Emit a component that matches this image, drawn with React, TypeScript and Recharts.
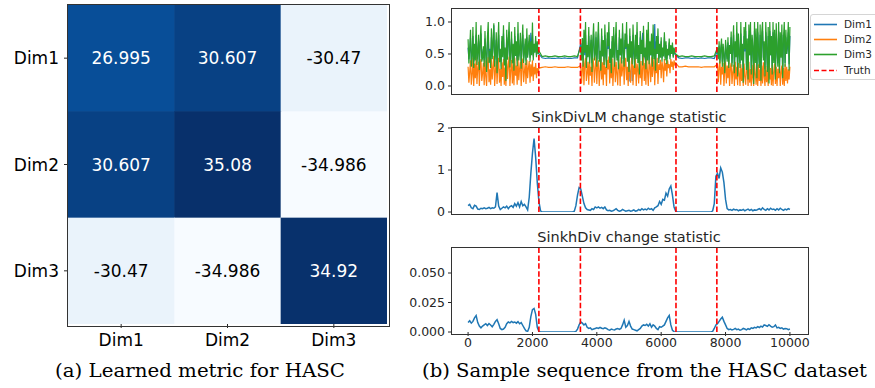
import React from 'react';
import { LineChart, Line, XAxis, YAxis, ReferenceLine, ScatterChart, Scatter } from 'recharts';

const FONT = 'DejaVu Sans';
const INK = '#262626';

// ---------- Heatmap data ----------
const dims = ['Dim1', 'Dim2', 'Dim3'];
const metric = [
  [26.995, 30.607, -30.47],
  [30.607, 35.08, -34.986],
  [-30.47, -34.986, 34.92],
];

// ---------- Sequence data ----------
const xTicks = [0, 2000, 4000, 6000, 8000, 10000];
const truthChanges = [2200, 3490, 6460, 7730];

// segment starts (x) and sampling steps for the raw sequence
const activeStep = 25;
const flatStep = 100;
const segA1 = 0;
const segF1 = 2300;
const segA2 = 3500;
const segF2 = 6550;
const segA3 = 7750;

// values in hundredths
const dim1A1 = [
  60,42,55,75,40,48,78,38,62,45, 80,42,55,70,36,65,82,44,50,58,
  40,74,50,35,66,84,42,58,38,76, 46,62,95,40,54,72,34,60,80,44,
  56,38,70,48,82,40,58,30,76,46, 66,85,40,56,74,42,62,36,78,50,
  64,40,82,46,56,72,38,62,80,44, 54,66,40,76,48,60,70,44,83,50,
  80,46,62,54,70,48,64,52,50,
];
const dim1F1 = [44,43,44,43,43,44,43,44,43,43,44,44];
const dim1A2 = [
  67,44,66,40,74,48,80,38,60,46, 78,42,56,72,36,64,82,44,50,76,
  40,62,84,42,54,36,78,48,66,40, 80,50,38,74,58,84,42,56,34,70,
  48,80,40,62,82,44,54,38,76,48, 66,42,84,52,40,72,58,80,44,62,
  7,78,48,64,8,80,52,40,72,46, 84,42,60,36,76,50,66,83,40,46,
  58,38,76,44,82,40,64,48,72,38, 80,46,97,36,70,50,78,42,62,46,
  70,44,58,48,76,44,64,42,56,48, 68,46,60,50,62,46,58,50,48,
];
const dim1F2 = [44,43,44,44,43,44,43,44,43,44,44,43];
const dim1A3 = [
  55,44,62,40,56,66,38,60,48,30, 64,52,42,68,34,60,50,76,36,58,
  80,30,64,46,84,26,72,50,36,82, 44,60,22,78,54,86,32,66,24,80,
  48,84,28,70,58,18,86,40,76,24, 84,52,34,80,20,72,86,44,64,26,
  84,56,30,78,18,86,48,70,28,84, 40,76,22,82,54,36,86,30,74,46,
  80,24,66,84,36,76,50,60,84,34, 78,
];

const dim2A1 = [
  30,5,22,40,2,18,44,0,35,12, 46,3,28,38,0,33,42,8,20,36,
  1,40,15,0,34,45,6,26,2,43, 10,30,47,0,24,39,3,31,44,5,
  27,0,37,14,42,2,29,0,40,11, 33,46,0,25,41,4,35,1,44,16,
  32,2,45,9,27,38,0,30,43,6, 22,36,3,41,12,28,39,5,34,15,
  40,8,30,18,36,12,28,20,28,
];
const dim2F1 = [29,30,29,29,30,29,29,29,30,29,29,29];
const dim2A2 = [
  32,4,26,40,1,35,44,8,20,38, 2,42,16,30,0,44,36,5,28,46,
  3,33,40,0,24,43,10,37,1,45, 18,30,0,41,26,46,4,35,12,43,
  0,29,44,6,38,20,1,42,33,0, 45,15,27,40,2,36,44,9,30,0,
  41,24,5,38,46,1,32,18,43,0, 35,27,4,44,12,39,0,30,46,8,
  36,2,42,22,0,40,31,6,45,14, 28,43,1,37,20,44,3,34,25,41,
  12,38,30,6,42,24,36,15,40,28, 34,20,42,30,38,25,40,32,36,
];
const dim2F2 = [30,30,31,30,30,30,30,29,30,30,30,30];
const dim2A3 = [
  34,6,28,40,2,30,18,36,0,25, 38,4,32,12,40,0,29,36,3,22,
  33,0,38,10,30,1,36,20,0,34, 8,28,0,35,14,2,31,24,0,38,
  5,27,0,33,12,0,36,20,2,30, 0,34,8,26,0,32,4,37,15,0,
  31,6,25,0,36,10,28,1,33,0, 24,35,3,30,0,27,12,36,0,22,
  32,2,28,0,34,8,30,4,26,10, 30,
];

const dim3A1 = [
  73,35,58,88,30,45,92,28,66,40, 100,33,52,80,25,70,95,38,44,62,
  30,86,48,22,75,100,36,55,28,90, 42,68,98,30,50,84,20,64,100,37,
  58,26,78,45,95,32,60,8,88,41, 72,100,29,54,85,35,66,24,92,47,
  70,31,100,40,58,83,27,68,96,36, 52,74,33,90,44,62,80,38,70,48,
  99,40,66,52,78,45,70,50,55,
];
const dim3F1 = [46,47,46,46,47,46,46,47,46,46,47,46];
const dim3A2 = [
  62,40,75,30,88,52,100,28,64,45, 92,35,58,80,22,70,98,40,50,85,
  30,66,100,38,55,24,90,46,72,33, 96,50,28,84,62,100,36,58,20,78,
  44,92,30,68,100,40,56,26,88,48, 74,35,98,52,30,82,60,100,38,66,
  22,90,44,70,34,96,54,28,80,42, 100,36,64,18,86,50,72,32,94,45,
  60,26,88,40,100,34,70,48,82,30, 96,42,58,24,78,50,90,36,66,44,
  76,38,60,46,84,40,70,34,58,48, 74,42,64,50,68,44,60,52,50,
];
const dim3F2 = [46,47,46,46,47,46,46,46,47,46,46,47];
const dim3A3 = [
  60,42,70,35,58,74,30,66,48,20, 72,55,38,76,28,64,50,85,30,62,
  95,20,70,45,100,15,82,52,28,100, 40,66,5,92,58,100,25,74,10,96,
  48,100,18,80,62,3,100,36,90,12, 100,54,28,96,8,84,100,40,70,15,
  100,60,22,92,4,100,48,78,18,100, 36,88,10,98,56,30,100,20,84,44,
  96,12,74,100,30,88,50,66,100,24, 92,
];

// change statistics, sampled every 50
const statStep = 50;
// SinkDivLM statistic, hundredths
const sinkDivLM = [
  15,18,10,8,16,14,7,6,9,8,
  10,8,9,11,8,10,9,12,46,14,
  6,9,12,10,14,8,13,15,11,20,
  14,22,12,25,15,18,12,5,35,92,
  140,175,130,70,25,3,0,0,0,0,
  0,0,0,0,0,0,0,0,0,0,
  0,0,0,0,0,0,2,15,40,58,
  55,38,20,10,6,5,4,8,6,12,
  10,12,9,11,8,12,5,3,4,2,
  3,5,8,4,2,3,6,4,2,3,
  4,2,3,5,2,3,6,4,8,5,
  7,5,9,6,8,4,10,12,15,25,
  18,30,28,45,38,55,62,40,12,2,
  0,0,0,0,0,0,0,0,0,0,
  0,0,0,0,0,0,0,0,0,0,
  0,0,3,20,85,92,80,105,95,70,
  30,8,5,6,4,7,5,6,3,5,
  4,6,3,5,7,4,6,3,5,4,
  6,8,5,10,6,4,8,5,9,6,
  7,4,8,5,9,6,4,7,5,8,6,
];

// SinkhDiv statistic, ten-thousandths
const sinkhDiv = [
  80,95,75,90,120,140,80,50,35,50,
  60,70,55,72,60,45,65,90,105,70,
  30,20,25,40,70,85,78,90,80,85,
  75,88,70,80,55,30,10,5,40,130,
  190,200,150,40,5,0,0,0,0,0,
  0,0,0,0,0,0,0,0,0,0,
  0,0,0,0,0,0,0,5,25,60,
  85,75,60,70,40,30,35,20,25,30,
  35,30,40,32,28,35,30,20,15,25,
  20,18,25,30,22,30,60,100,40,55,
  90,50,25,20,15,10,20,30,50,60,
  55,65,50,70,40,60,50,30,20,45,
  40,50,60,90,120,140,60,15,3,0,
  0,0,0,0,0,0,0,0,0,0,
  0,0,0,0,0,0,0,0,0,0,
  0,0,5,30,60,70,90,110,125,90,
  60,30,20,25,18,22,30,20,25,15,
  20,30,25,18,28,22,35,30,40,35,
  45,38,50,42,60,55,48,62,50,40,
  45,60,35,40,30,35,25,30,28,20,25,
];

const legendItems = [
  { name: 'Dim1', color: '#1f77b4', dashed: false },
  { name: 'Dim2', color: '#ff7f0e', dashed: false },
  { name: 'Dim3', color: '#2ca02c', dashed: false },
  { name: 'Truth', color: '#ff0000', dashed: true },
];

// ---------- tables ----------
function buildRows(parts: [number, number, number[]][], scale: number) {
  const rows: { x: number; y: number }[] = [];
  parts.forEach(([start, step, vals]) => {
    vals.forEach((v, i) => rows.push({ x: start + i * step, y: v / scale }));
  });
  return rows;
}
const dim1Rows = buildRows(
  [[segA1, activeStep, dim1A1], [segF1, flatStep, dim1F1], [segA2, activeStep, dim1A2], [segF2, flatStep, dim1F2], [segA3, activeStep, dim1A3]],
  100,
);
const dim2Rows = buildRows(
  [[segA1, activeStep, dim2A1], [segF1, flatStep, dim2F1], [segA2, activeStep, dim2A2], [segF2, flatStep, dim2F2], [segA3, activeStep, dim2A3]],
  100,
);
const dim3Rows = buildRows(
  [[segA1, activeStep, dim3A1], [segF1, flatStep, dim3F1], [segA2, activeStep, dim3A2], [segF2, flatStep, dim3F2], [segA3, activeStep, dim3A3]],
  100,
);
const lmRows = sinkDivLM.map((v, i) => ({ x: i * statStep, v: v / 100 }));
const sdRows = sinkhDiv.map((v, i) => ({ x: i * statStep, v: v / 10000 }));
const cellRows = metric.flatMap((row, r) => row.map((v, c) => ({ x: c, y: r, v })));
const allVals = metric.flat();
const VMIN = Math.min(...allVals);
const VMAX = Math.max(...allVals);

// ---------- colormap ----------
const BLUES = ['#f7fbff', '#deebf7', '#c6dbef', '#9ecae1', '#6baed6', '#4292c6', '#2171b5', '#08519c', '#08306b'];
function hexToRgb(h: string) {
  return [parseInt(h.slice(1, 3), 16), parseInt(h.slice(3, 5), 16), parseInt(h.slice(5, 7), 16)];
}
function blues(t: number) {
  const c = Math.max(0, Math.min(1, t)) * (BLUES.length - 1);
  const i = Math.min(Math.floor(c), BLUES.length - 2);
  const f = c - i;
  const a = hexToRgb(BLUES[i]);
  const b = hexToRgb(BLUES[i + 1]);
  const m = a.map((av, k) => Math.round(av + (b[k] - av) * f));
  return `rgb(${m[0]},${m[1]},${m[2]})`;
}

const HM_SIZE = 319;
const HM_CELL = HM_SIZE / 3;

function HeatCell(props: any) {
  const { cx, cy, payload } = props;
  if (cx == null || cy == null) return null;
  const t = (payload.v - VMIN) / (VMAX - VMIN);
  return (
    <g>
      <rect x={cx - HM_CELL / 2} y={cy - HM_CELL / 2} width={HM_CELL + 0.6} height={HM_CELL + 0.6} fill={blues(t)} />
      <text x={cx} y={cy} dy="0.36em" textAnchor="middle" fontFamily={FONT} fontSize={17} fill={t > 0.5 ? '#ffffff' : '#000000'}>
        {String(payload.v)}
      </text>
    </g>
  );
}

const tickStyle = { fontSize: 12.5, fill: INK, fontFamily: FONT };

function Border({ left, top, width, height }: { left: number; top: number; width: number; height: number }) {
  return (
    <div
      style={{
        position: 'absolute',
        left: left - 1,
        top: top - 1,
        width: width,
        height: height,
        border: '1px solid #333',
        pointerEvents: 'none',
      }}
    />
  );
}

function StatChart({ top, rows, domain, ticks, fmt, height, showLabels }: any) {
  return (
    <div style={{ position: 'absolute', left: 400, top }}>
      <LineChart width={440} height={height} data={rows} margin={{ top: 28, right: 34, bottom: 0, left: 0 }}>
        <XAxis
          type="number"
          dataKey="x"
          domain={[-500, 10500]}
          ticks={xTicks}
          allowDataOverflow
          axisLine={false}
          tickLine={{ stroke: INK }}
          tickSize={4}
          tickMargin={2}
          height={showLabels ? 30 : 8}
          tick={showLabels ? tickStyle : false}
        />
        <YAxis
          type="number"
          domain={domain}
          ticks={ticks}
          tickFormatter={fmt}
          allowDataOverflow
          width={52}
          axisLine={false}
          tickLine={{ stroke: INK }}
          tickSize={4}
          tickMargin={3}
          tick={tickStyle}
        />
        <Line type="linear" dataKey="v" stroke="#1f77b4" strokeWidth={1.5} dot={false} isAnimationActive={false} />
        {truthChanges.map((c) => (
          <ReferenceLine key={c} x={c} stroke="#ff0000" strokeWidth={1.6} strokeDasharray="5.5 2.4" />
        ))}
      </LineChart>
    </div>
  );
}

export default function App() {
  return (
    <div
      style={{
        position: 'absolute',
        left: 0,
        top: 0,
        width: 875,
        height: 388,
        background: '#ffffff',
        overflow: 'hidden',
        fontFamily: FONT,
      }}
    >
      {/* (a) heatmap */}
      <div style={{ position: 'absolute', left: 0, top: 0 }}>
        <ScatterChart width={420} height={388} margin={{ top: 5, right: 33, bottom: 24, left: 0 }}>
          <XAxis
            type="number"
            dataKey="x"
            domain={[-0.5, 2.5]}
            ticks={[0, 1, 2]}
            tickFormatter={(v: number) => dims[v]}
            allowDataOverflow
            axisLine={false}
            tickLine={{ stroke: INK }}
            tickSize={4}
            tickMargin={6}
            height={40}
            tick={{ fontSize: 17, fill: '#000', fontFamily: FONT }}
          />
          <YAxis
            type="number"
            dataKey="y"
            domain={[-0.5, 2.5]}
            ticks={[0, 1, 2]}
            tickFormatter={(v: number) => dims[v]}
            reversed
            allowDataOverflow
            width={68}
            axisLine={false}
            tickLine={{ stroke: INK }}
            tickSize={4}
            tickMargin={5}
            tick={{ fontSize: 17, fill: '#000', fontFamily: FONT }}
          />
          <Scatter data={cellRows} shape={HeatCell} isAnimationActive={false} />
        </ScatterChart>
      </div>
      <Border left={68} top={5} width={HM_SIZE + 2} height={HM_SIZE + 2} />

      {/* (b) top: sequence */}
      <div style={{ position: 'absolute', left: 400, top: 0 }}>
        <LineChart width={440} height={100} margin={{ top: 9, right: 34, bottom: 0, left: 0 }}>
          <XAxis
            type="number"
            dataKey="x"
            domain={[-500, 10500]}
            ticks={xTicks}
            allowDataOverflow
            axisLine={false}
            tickLine={{ stroke: INK }}
            tickSize={4}
            height={8}
            tick={false}
          />
          <YAxis
            type="number"
            dataKey="y"
            domain={[-0.094, 1.203]}
            ticks={[0, 0.5, 1]}
            tickFormatter={(v: number) => v.toFixed(1)}
            allowDataOverflow
            width={52}
            axisLine={false}
            tickLine={{ stroke: INK }}
            tickSize={4}
            tickMargin={3}
            tick={tickStyle}
          />
          <Line data={dim1Rows} type="linear" dataKey="y" stroke="#1f77b4" strokeWidth={1.2} dot={false} isAnimationActive={false} />
          <Line data={dim2Rows} type="linear" dataKey="y" stroke="#ff7f0e" strokeWidth={1.2} dot={false} isAnimationActive={false} />
          <Line data={dim3Rows} type="linear" dataKey="y" stroke="#2ca02c" strokeWidth={1.2} dot={false} isAnimationActive={false} />
          {truthChanges.map((c) => (
            <ReferenceLine key={c} x={c} stroke="#ff0000" strokeWidth={1.6} strokeDasharray="5.5 2.4" />
          ))}
        </LineChart>
      </div>
      <Border left={452} top={9} width={356} height={85} />

      <StatChart
        top={100}
        rows={lmRows}
        domain={[0, 2]}
        ticks={[0, 1, 2]}
        fmt={(v: number) => String(v)}
        height={120}
        showLabels={false}
      />
      <Border left={452} top={128} width={356} height={86} />

      <StatChart
        top={220}
        rows={sdRows}
        domain={[0, 0.0712]}
        ticks={[0, 0.025, 0.05]}
        fmt={(v: number) => v.toFixed(3)}
        height={142}
        showLabels={true}
      />
      <Border left={452} top={248} width={356} height={86} />

      {/* legend */}
      <div
        style={{
          position: 'absolute',
          left: 810,
          top: 14,
          width: 80,
          height: 64,
          border: '1px solid #d5d5d5',
          borderRadius: 3,
          background: '#ffffff',
        }}
      >
        {legendItems.map((it, i) => (
          <div key={it.name} style={{ position: 'absolute', left: 0, top: 2 + i * 15.2, height: 15, width: 80 }}>
            <svg width={30} height={15} style={{ position: 'absolute', left: 2, top: 0 }}>
              <line
                x1={1}
                x2={24}
                y1={7.5}
                y2={7.5}
                stroke={it.color}
                strokeWidth={1.6}
                strokeDasharray={it.dashed ? '5 2.5' : undefined}
              />
            </svg>
            <span
              style={{
                position: 'absolute',
                left: 33,
                top: 0,
                lineHeight: '15px',
                fontSize: 10.5,
                fontFamily: FONT,
                color: INK,
              }}
            >
              {it.name}
            </span>
          </div>
        ))}
      </div>

      {/* titles and captions */}
      <svg width={875} height={388} style={{ position: 'absolute', left: 0, top: 0, pointerEvents: 'none' }}>
        <text x={629} y={122} textAnchor="middle" fontFamily={FONT} fontSize={14.5} fill={INK}>
          SinkDivLM change statistic
        </text>
        <text x={629} y={241.5} textAnchor="middle" fontFamily={FONT} fontSize={14.5} fill={INK}>
          SinkhDiv change statistic
        </text>
        <text
          x={200}
          y={377}
          textAnchor="middle"
          fontFamily="DejaVu Serif"
          fontSize={18}
          fill="#000"
          textLength={290}
          lengthAdjust="spacingAndGlyphs"
        >
          (a) Learned metric for HASC
        </text>
        <text
          x={644.5}
          y={377}
          textAnchor="middle"
          fontFamily="DejaVu Serif"
          fontSize={18}
          fill="#000"
          textLength={445}
          lengthAdjust="spacingAndGlyphs"
        >
          (b) Sample sequence from the HASC dataset
        </text>
      </svg>
    </div>
  );
}
